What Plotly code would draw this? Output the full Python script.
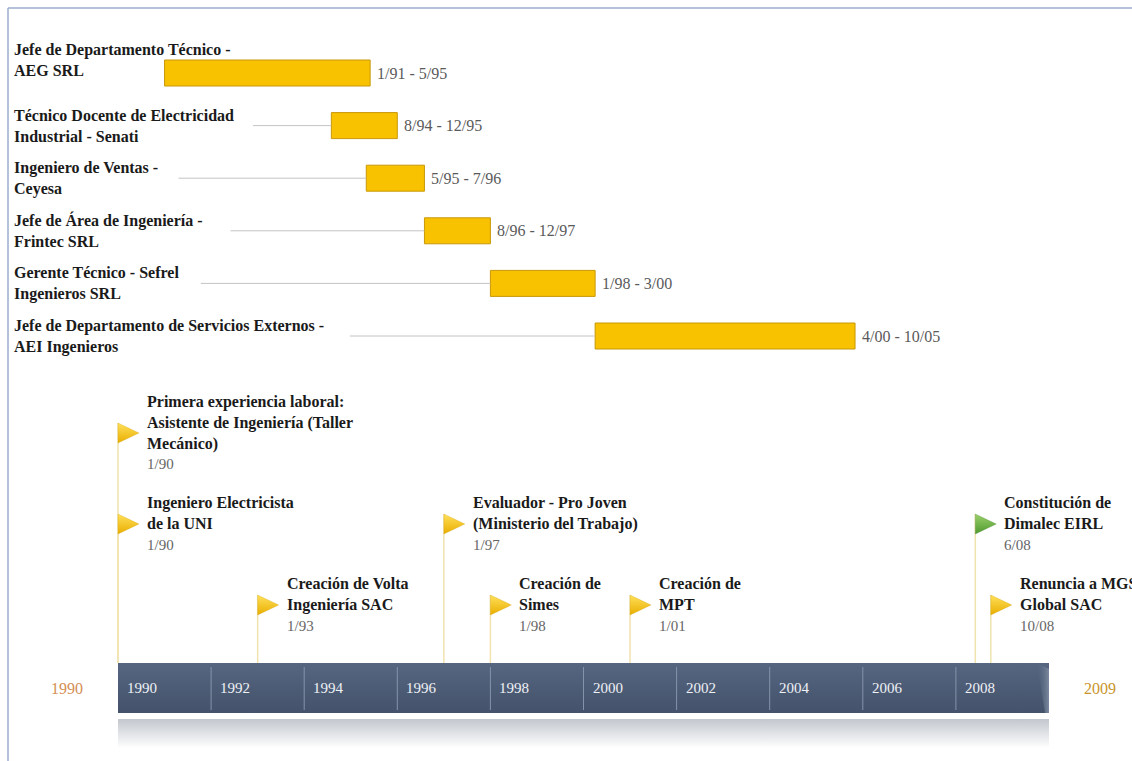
import plotly.graph_objects as go

W, H = 1132, 761

# ---------------- data ----------------
ROLES = [
    "Jefe de Departamento Técnico -<br>AEG SRL",
    "Técnico Docente de Electricidad<br>Industrial - Senati",
    "Ingeniero de Ventas -<br>Ceyesa",
    "Jefe de Área de Ingeniería -<br>Frintec SRL",
    "Gerente Técnico - Sefrel<br>Ingenieros SRL",
    "Jefe de Departamento de Servicios Externos -<br>AEI Ingenieros",
]
ROLE_START = ["1/91", "8/94", "5/95", "8/96", "1/98", "4/00"]
ROLE_END = ["5/95", "12/95", "7/96", "12/97", "3/00", "10/05"]

EVENT_TITLES = [
    "Primera experiencia laboral:<br>Asistente de Ingeniería (Taller<br>Mecánico)",
    "Ingeniero Electricista<br>de la UNI",
    "Creación de Volta<br>Ingeniería SAC",
    "Evaluador - Pro Joven<br>(Ministerio del Trabajo)",
    "Creación de<br>Simes",
    "Creación de<br>MPT",
    "Constitución de<br>Dimalec EIRL",
    "Renuncia a MGS<br>Global SAC",
]
EVENT_DATES = ["1/90", "1/90", "1/93", "1/97", "1/98", "1/01", "6/08", "10/08"]

AXIS_START_YEAR = 1990
AXIS_END_YEAR = 2010
TICK_YEARS = list(range(1990, 2009, 2))
RANGE_LABELS = ["1990", "2009"]

# ---------------- layout / style ----------------
FONT = "Liberation Serif"
EVENT_LANE = [2, 1, 0, 1, 0, 0, 1, 0]
EVENT_COLOR = ["gold", "gold", "gold", "gold", "gold", "gold", "green", "gold"]
LANE_Y = [605, 524, 433]
ROW_Y0, ROW_STEP, BAR_H = 73, 52.6, 26
BAND_TOP, BAND_BOT = 663, 713
REFL_TOP, REFL_BOT = 719, 748
LABEL_LEFT_PX = 12
CHAR_PX = 7.45

PLOT_LEFT_PX, PLOT_RIGHT_PX = 118, 1049
PXY = (PLOT_RIGHT_PX - PLOT_LEFT_PX) / (AXIS_END_YEAR - AXIS_START_YEAR)
X0 = AXIS_START_YEAR - PLOT_LEFT_PX / PXY
X1 = X0 + W / PXY


def px(n):
    return n / PXY


def parse(d, end=False):
    m, y = (int(v) for v in d.split("/"))
    y += 1900 if y >= 50 else 2000
    return y + (m if end else m - 1) / 12.0


fig = go.Figure()

# ---------------- Gantt section ----------------
starts = [parse(s) for s in ROLE_START]
ends = [parse(e, end=True) for e in ROLE_END]
rows_y = [ROW_Y0 + i * ROW_STEP for i in range(len(ROLES))]

annotations = []
for i, role in enumerate(ROLES):
    longest = max(len(l) for l in role.split("<br>"))
    lab_end = X0 + px(LABEL_LEFT_PX + CHAR_PX * longest + 10)
    overlap = lab_end >= starts[i]
    if not overlap:
        fig.add_trace(go.Scatter(
            x=[lab_end, starts[i]], y=[rows_y[i], rows_y[i]], mode="lines",
            line=dict(color="#C4C4C4", width=1), hoverinfo="skip", showlegend=False))
    text = "<br>".join("<b>%s</b>" % l for l in role.split("<br>"))
    annotations.append(dict(
        x=X0 + px(LABEL_LEFT_PX), y=rows_y[i] + (-13 if overlap else 0),
        xref="x", yref="y", xanchor="left", yanchor="middle", align="left",
        text=text, showarrow=False, font=dict(family=FONT, size=16, color="#1A1A1A")))
    annotations.append(dict(
        x=ends[i], y=rows_y[i], xref="x", yref="y", xanchor="left", yanchor="middle",
        xshift=5, text="%s - %s" % (ROLE_START[i], ROLE_END[i]), showarrow=False,
        font=dict(family=FONT, size=16, color="#5A5A5A")))

fig.add_trace(go.Bar(
    orientation="h", base=starts, x=[e - s for s, e in zip(starts, ends)], y=rows_y,
    width=BAR_H, marker=dict(color="#F8C200", line=dict(color="#C8980A", width=1)),
    hoverinfo="skip", showlegend=False))

# ---------------- timeline band ----------------
fig.add_trace(go.Scatter(
    x=[AXIS_START_YEAR, AXIS_END_YEAR, AXIS_END_YEAR, AXIS_START_YEAR, AXIS_START_YEAR],
    y=[REFL_TOP, REFL_TOP, REFL_BOT, REFL_BOT, REFL_TOP], mode="lines", fill="toself",
    line=dict(width=0, color="rgba(0,0,0,0)"),
    fillgradient=dict(type="vertical", start=REFL_TOP, stop=REFL_BOT,
                      colorscale=[[0, "#C3C7CE"], [1, "#FFFFFF"]]),
    hoverinfo="skip", showlegend=False))

fig.add_trace(go.Scatter(
    x=[AXIS_START_YEAR, AXIS_END_YEAR, AXIS_END_YEAR, AXIS_START_YEAR, AXIS_START_YEAR],
    y=[BAND_TOP, BAND_TOP, BAND_BOT, BAND_BOT, BAND_TOP], mode="lines", fill="toself",
    line=dict(width=0, color="rgba(0,0,0,0)"),
    fillgradient=dict(type="vertical", start=BAND_TOP, stop=BAND_BOT,
                      colorscale=[[0, "#566681"], [1, "#44526A"]]),
    hoverinfo="skip", showlegend=False))

# light bevel at the right end of the band
fig.add_trace(go.Scatter(
    x=[AXIS_END_YEAR - px(12), AXIS_END_YEAR, AXIS_END_YEAR, AXIS_END_YEAR - px(4),
       AXIS_END_YEAR - px(12)],
    y=[BAND_TOP, BAND_TOP + 6, BAND_BOT, BAND_BOT, BAND_TOP], mode="lines", fill="toself",
    line=dict(width=0, color="rgba(0,0,0,0)"),
    fillgradient=dict(type="horizontal", start=AXIS_END_YEAR - px(12), stop=AXIS_END_YEAR,
                      colorscale=[[0, "rgba(86,102,129,0)"], [1, "#7C899E"]]),
    hoverinfo="skip", showlegend=False))

sep_x, sep_y = [], []
for yr in TICK_YEARS[1:]:
    sep_x += [yr, yr, None]
    sep_y += [BAND_TOP + 4, BAND_BOT - 3, None]
fig.add_trace(go.Scatter(x=sep_x, y=sep_y, mode="lines",
                         line=dict(color="#8593AA", width=1), hoverinfo="skip", showlegend=False))

for yr in TICK_YEARS:
    annotations.append(dict(
        x=yr, y=(BAND_TOP + BAND_BOT) / 2, xref="x", yref="y", xanchor="left",
        yanchor="middle", xshift=7, text=str(yr), showarrow=False,
        font=dict(family=FONT, size=15, color="#EEF1F5")))

annotations.append(dict(
    x=AXIS_START_YEAR, y=(BAND_TOP + BAND_BOT) / 2, xref="x", yref="y", xanchor="right",
    yanchor="middle", xshift=-33, text=RANGE_LABELS[0], showarrow=False,
    font=dict(family=FONT, size=16, color="#D58E55")))
annotations.append(dict(
    x=AXIS_END_YEAR, y=(BAND_TOP + BAND_BOT) / 2, xref="x", yref="y", xanchor="left",
    yanchor="middle", xshift=33, text=RANGE_LABELS[1], showarrow=False,
    font=dict(family=FONT, size=16, color="#C9952C")))

# ---------------- event flags ----------------
FLAG_FILL = {"gold": [[0, "#FFE05A"], [1, "#E9AE00"]],
             "green": [[0, "#9BD06A"], [1, "#4F9A2F"]]}
for i, title in enumerate(EVENT_TITLES):
    d = parse(EVENT_DATES[i])
    c = LANE_Y[EVENT_LANE[i]]
    fig.add_trace(go.Scatter(x=[d, d], y=[c - 10, BAND_TOP], mode="lines",
                             line=dict(color="#F0E3AE", width=1.5),
                             hoverinfo="skip", showlegend=False))
    fig.add_trace(go.Scatter(
        x=[d, d + px(21), d, d], y=[c - 10, c, c + 10, c - 10], mode="lines", fill="toself",
        line=dict(width=0.5, color="rgba(200,150,0,0.5)" if EVENT_COLOR[i] == "gold" else "rgba(60,120,40,0.5)"),
        fillgradient=dict(type="vertical", start=c - 10, stop=c + 10,
                          colorscale=FLAG_FILL[EVENT_COLOR[i]]),
        hoverinfo="skip", showlegend=False))
    text = "<br>".join("<b>%s</b>" % l for l in title.split("<br>"))
    text += "<br><span style='color:#666666;font-size:15px'>%s</span>" % EVENT_DATES[i]
    annotations.append(dict(
        x=d, y=c - 1, xref="x", yref="y", xanchor="left", yanchor="middle", xshift=27,
        align="left", text=text, showarrow=False,
        font=dict(family=FONT, size=16, color="#1A1A1A")))

# ---------------- frame ----------------
shapes = [
    dict(type="line", xref="paper", yref="paper", x0=8 / W, x1=8 / W, y0=0, y1=1 - 8 / H,
         line=dict(color="#9AAECB", width=1.5)),
    dict(type="line", xref="paper", yref="paper", x0=8 / W, x1=1, y0=1 - 8 / H, y1=1 - 8 / H,
         line=dict(color="#9AAECB", width=1.5)),
]

fig.update_layout(
    width=W, height=H, autosize=False,
    margin=dict(l=0, r=0, t=0, b=0),
    paper_bgcolor="white", plot_bgcolor="white",
    xaxis=dict(range=[X0, X1], visible=False, fixedrange=True),
    yaxis=dict(range=[H, 0], visible=False, fixedrange=True),
    annotations=annotations, shapes=shapes, showlegend=False,
    font=dict(family=FONT),
)

fig.write_html("out.html", config={"displayModeBar": False})
